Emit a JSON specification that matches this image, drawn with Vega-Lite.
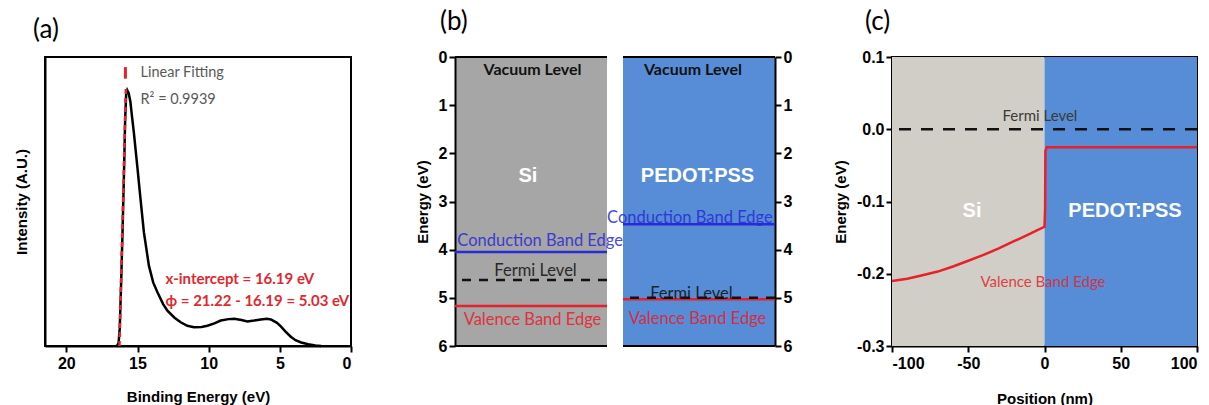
{
  "$schema": "https://vega.github.io/schema/vega-lite/v6.json",
  "background": "white",
  "padding": {"left": 13, "top": 8, "right": 5, "bottom": 0},
  "spacing": 16,
  "bounds": "flush",
  "resolve": {"scale": {"color": "independent", "strokeDash": "independent"}},
  "config": {
    "font": "Liberation Sans",
    "axis": {"domainColor": "black", "domainWidth": 2, "tickColor": "black", "tickWidth": 2, "tickSize": 6, "labelFont": "Liberation Sans", "labelFontWeight": "bold", "labelFontSize": 16, "labelColor": "black", "titleFont": "Liberation Sans", "titleFontWeight": "bold", "titleFontSize": 15, "titleColor": "black", "grid": false},
    "title": {"font": "Lato", "fontSize": 26, "fontWeight": "normal", "anchor": "start", "frame": "group", "color": "black"}
  },
  "hconcat": [
    {
      "width": 306, "height": 289,
      "title": {"text": "(a)", "dx": -12, "offset": 14},
      "view": {"stroke": "black", "strokeWidth": 2},
      "layer": [
        {
          "data": {"values": [
            {"be": 16.45, "int": 0}, {"be": 16.33, "int": 0.01}, {"be": 16.25, "int": 0.06}, {"be": 16.15, "int": 0.22}, {"be": 16.05, "int": 0.4}, {"be": 15.95, "int": 0.6}, {"be": 15.87, "int": 0.78}, {"be": 15.8, "int": 0.87}, {"be": 15.72, "int": 0.885}, {"be": 15.62, "int": 0.875}, {"be": 15.5, "int": 0.845}, {"be": 15.4, "int": 0.8}, {"be": 15.26, "int": 0.74}, {"be": 15.02, "int": 0.624}, {"be": 14.79, "int": 0.509}, {"be": 14.55, "int": 0.393}, {"be": 14.2, "int": 0.278}, {"be": 13.9, "int": 0.22}, {"be": 13.6, "int": 0.186}, {"be": 13.2, "int": 0.145}, {"be": 12.9, "int": 0.122}, {"be": 12.4, "int": 0.098}, {"be": 11.97, "int": 0.082}, {"be": 11.5, "int": 0.07}, {"be": 11.03, "int": 0.065}, {"be": 10.5, "int": 0.066}, {"be": 10.09, "int": 0.07}, {"be": 9.6, "int": 0.078}, {"be": 9.15, "int": 0.088}, {"be": 8.6, "int": 0.093}, {"be": 8.2, "int": 0.094}, {"be": 7.7, "int": 0.09}, {"be": 7.28, "int": 0.085}, {"be": 6.8, "int": 0.088}, {"be": 6.34, "int": 0.092}, {"be": 5.9, "int": 0.094}, {"be": 5.63, "int": 0.092}, {"be": 5.2, "int": 0.08}, {"be": 4.93, "int": 0.068}, {"be": 4.6, "int": 0.05}, {"be": 4.23, "int": 0.032}, {"be": 3.9, "int": 0.02}, {"be": 3.5, "int": 0.012}, {"be": 3.0, "int": 0.006}, {"be": 2.5, "int": 0.002}, {"be": 2.1, "int": 0}
          ]},
          "mark": {"type": "line", "color": "black", "strokeWidth": 2.5},
          "encoding": {
            "x": {"field": "be", "type": "quantitative", "scale": {"domain": [0, 21.5], "reverse": true, "nice": false, "zero": false}, "axis": {"values": [0, 5, 10, 15, 20], "title": "Binding Energy (eV)", "labelPadding": 3, "titlePadding": 18}},
            "y": {"field": "int", "type": "quantitative", "scale": {"domain": [0, 1], "nice": false}, "axis": {"labels": false, "ticks": false, "title": "Intensity (A.U.)", "titlePadding": 16}},
            "order": {"field": "be", "sort": "descending"}
          }
        },
        {
          "data": {"values": [{"be": 16.27, "int": 0}, {"be": 15.82, "int": 0.89}]},
          "mark": {"type": "line", "color": "#e8202a", "strokeWidth": 2.5, "strokeDash": [5, 4]},
          "encoding": {"x": {"field": "be", "type": "quantitative"}, "y": {"field": "int", "type": "quantitative"}}
        },
        {
          "data": {"values": [{"be": 15.85, "int": 0.925, "int2": 0.965}]},
          "mark": {"type": "rule", "color": "#e8202a", "strokeWidth": 3},
          "encoding": {"x": {"field": "be", "type": "quantitative"}, "y": {"field": "int", "type": "quantitative"}, "y2": {"field": "int2"}}
        },
        {
          "data": {"values": [{"be": 14.79, "int": 0.945, "label": "Linear Fitting"}, {"be": 14.79, "int": 0.851, "label": "R² = 0.9939"}]},
          "mark": {"type": "text", "font": "Lato", "fontSize": 14.5, "color": "#595959", "align": "left", "baseline": "middle"},
          "encoding": {"x": {"field": "be", "type": "quantitative"}, "y": {"field": "int", "type": "quantitative"}, "text": {"field": "label"}}
        },
        {
          "data": {"values": [{"be": 13.03, "int": 0.232, "label": "x-intercept = 16.19 eV"}, {"be": 13.03, "int": 0.156, "label": "ϕ = 21.22 - 16.19 = 5.03 eV"}]},
          "mark": {"type": "text", "font": "Lato", "fontSize": 15, "fontWeight": "bold", "color": "#e0282f", "align": "left", "baseline": "middle"},
          "encoding": {"x": {"field": "be", "type": "quantitative"}, "y": {"field": "int", "type": "quantitative"}, "text": {"field": "label"}}
        }
      ]
    },
    {"width": 72, "height": 289, "view": {"stroke": null}, "data": {"values": [{}]}, "mark": {"type": "point", "opacity": 0}},
    {
      "width": 152, "height": 289,
      "title": {"text": "(b)", "dx": -15, "offset": 14},
      "view": {"stroke": null, "fill": "#a6a6a6"},
      "layer": [
        {
          "data": {"values": [{"energy": 0}, {"energy": 6}]},
          "mark": {"type": "rule", "color": "black", "strokeWidth": 2},
          "encoding": {"y": {"field": "energy", "type": "quantitative", "scale": {"domain": [0, 6], "reverse": true, "nice": false, "zero": false}, "axis": {"values": [0, 1, 2, 3, 4, 5, 6], "title": "Energy (eV)", "orient": "left", "titlePadding": 8}}}
        },
        {
          "data": {"values": [{"level": "Conduction Band Edge", "energy": 4.05}, {"level": "Fermi Level", "energy": 4.63}, {"level": "Valence Band Edge", "energy": 5.17}]},
          "mark": {"type": "rule", "strokeWidth": 2.5},
          "encoding": {
            "y": {"field": "energy", "type": "quantitative"},
            "color": {"field": "level", "type": "nominal", "scale": {"domain": ["Conduction Band Edge", "Fermi Level", "Valence Band Edge"], "range": ["#2a2ad8", "#111111", "#e8202a"]}, "legend": null},
            "strokeDash": {"field": "level", "type": "nominal", "scale": {"domain": ["Conduction Band Edge", "Fermi Level", "Valence Band Edge"], "range": [[1, 0], [9, 8], [1, 0]]}, "legend": null}
          }
        },
        {
          "data": {"values": [{"level": "Conduction Band Edge", "label": "Conduction Band Edge", "pos": 0.56, "energy": 3.82}, {"level": "Fermi Level", "label": "Fermi Level", "pos": 0.53, "energy": 4.44}, {"level": "Valence Band Edge", "label": "Valence Band Edge", "pos": 0.51, "energy": 5.46}]},
          "mark": {"type": "text", "font": "Lato", "fontSize": 16.5, "align": "center", "baseline": "middle", "opacity": 0.85},
          "encoding": {
            "x": {"field": "pos", "type": "quantitative", "scale": {"domain": [0, 1], "nice": false}, "axis": null},
            "y": {"field": "energy", "type": "quantitative"},
            "text": {"field": "label"},
            "color": {"field": "level", "type": "nominal", "legend": null}
          }
        },
        {
          "data": {"values": [{"label": "Vacuum Level", "pos": 0.51, "energy": 0.27}]},
          "mark": {"type": "text", "font": "Lato", "fontSize": 16, "fontWeight": "bold", "color": "#111111", "align": "center", "baseline": "middle"},
          "encoding": {"x": {"field": "pos", "type": "quantitative"}, "y": {"field": "energy", "type": "quantitative"}, "text": {"field": "label"}}
        },
        {
          "data": {"values": [{"label": "Si", "pos": 0.48, "energy": 2.47}]},
          "mark": {"type": "text", "font": "Liberation Sans", "fontSize": 20, "fontWeight": "bold", "color": "white", "align": "center", "baseline": "middle"},
          "encoding": {"x": {"field": "pos", "type": "quantitative"}, "y": {"field": "energy", "type": "quantitative"}, "text": {"field": "label"}}
        }
      ]
    },
    {
      "width": 152, "height": 289,
      "view": {"stroke": null, "fill": "#568dd6"},
      "layer": [
        {
          "data": {"values": [{"energy": 0}, {"energy": 6}]},
          "mark": {"type": "rule", "color": "black", "strokeWidth": 2},
          "encoding": {"y": {"field": "energy", "type": "quantitative", "scale": {"domain": [0, 6], "reverse": true, "nice": false, "zero": false}, "axis": {"values": [0, 1, 2, 3, 4, 5, 6], "title": null, "orient": "right"}}}
        },
        {
          "data": {"values": [{"level": "Conduction Band Edge", "energy": 3.47}, {"level": "Valence Band Edge", "energy": 5.03}, {"level": "Fermi Level", "energy": 5.0}]},
          "mark": {"type": "rule", "strokeWidth": 2.5},
          "encoding": {
            "y": {"field": "energy", "type": "quantitative"},
            "color": {"field": "level", "type": "nominal", "scale": {"domain": ["Conduction Band Edge", "Fermi Level", "Valence Band Edge"], "range": ["#2a2ad8", "#111111", "#e8202a"]}, "legend": null},
            "strokeDash": {"field": "level", "type": "nominal", "scale": {"domain": ["Conduction Band Edge", "Fermi Level", "Valence Band Edge"], "range": [[1, 0], [9, 8], [1, 0]]}, "legend": null}
          }
        },
        {
          "data": {"values": [{"level": "Conduction Band Edge", "label": "Conduction Band Edge", "pos": 0.44, "energy": 3.34}, {"level": "Fermi Level", "label": "Fermi Level", "pos": 0.45, "energy": 4.92}, {"level": "Valence Band Edge", "label": "Valence Band Edge", "pos": 0.49, "energy": 5.44}]},
          "mark": {"type": "text", "font": "Lato", "fontSize": 16.5, "align": "center", "baseline": "middle", "opacity": 0.85},
          "encoding": {
            "x": {"field": "pos", "type": "quantitative", "scale": {"domain": [0, 1], "nice": false}, "axis": null},
            "y": {"field": "energy", "type": "quantitative"},
            "text": {"field": "label"},
            "color": {"field": "level", "type": "nominal", "legend": null}
          }
        },
        {
          "data": {"values": [{"label": "Vacuum Level", "pos": 0.46, "energy": 0.27}]},
          "mark": {"type": "text", "font": "Lato", "fontSize": 16, "fontWeight": "bold", "color": "#111111", "align": "center", "baseline": "middle"},
          "encoding": {"x": {"field": "pos", "type": "quantitative"}, "y": {"field": "energy", "type": "quantitative"}, "text": {"field": "label"}}
        },
        {
          "data": {"values": [{"label": "PEDOT:PSS", "pos": 0.49, "energy": 2.47}]},
          "mark": {"type": "text", "font": "Liberation Sans", "fontSize": 20, "fontWeight": "bold", "color": "white", "align": "center", "baseline": "middle"},
          "encoding": {"x": {"field": "pos", "type": "quantitative"}, "y": {"field": "energy", "type": "quantitative"}, "text": {"field": "label"}}
        }
      ]
    },
    {"width": 85, "height": 289, "view": {"stroke": null}, "data": {"values": [{}]}, "mark": {"type": "point", "opacity": 0}},
    {
      "width": 305, "height": 289,
      "title": {"text": "(c)", "dx": -27, "offset": 14},
      "view": {"stroke": "black", "strokeWidth": 2},
      "layer": [
        {
          "data": {"values": [{"region": "Si", "x0": -100, "x1": 0}, {"region": "PEDOT:PSS", "x0": 0, "x1": 100}]},
          "mark": {"type": "rect"},
          "encoding": {
            "x": {"field": "x0", "type": "quantitative", "scale": {"domain": [-100, 100], "nice": false}, "axis": {"values": [-100, -50, 0, 50, 100], "title": "Position (nm)", "labelExpr": "replace(format(datum.value, 'd'), '\u2212', '-')", "labelPadding": 3, "titlePadding": 20}},
            "x2": {"field": "x1"},
            "y": {"datum": -0.3, "type": "quantitative", "scale": {"domain": [-0.3, 0.1], "nice": false, "zero": false}, "axis": {"values": [-0.3, -0.2, -0.1, 0, 0.1], "title": "Energy (eV)", "labelExpr": "replace(format(datum.value, '.1f'), '\u2212', '-')", "titlePadding": 8}},
            "y2": {"datum": 0.1},
            "color": {"field": "region", "type": "nominal", "scale": {"domain": ["Si", "PEDOT:PSS"], "range": ["#d0cec6", "#568dd6"]}, "legend": null}
          }
        },
        {
          "data": {"values": [{"energy": 0}]},
          "mark": {"type": "rule", "color": "#111111", "strokeWidth": 2.5, "strokeDash": [12, 10]},
          "encoding": {"y": {"field": "energy", "type": "quantitative"}}
        },
        {
          "data": {"values": [
            {"i": 0, "pos": -100, "energy": -0.21}, {"i": 1, "pos": -90, "energy": -0.207}, {"i": 2, "pos": -80, "energy": -0.202}, {"i": 3, "pos": -70, "energy": -0.197}, {"i": 4, "pos": -60, "energy": -0.19}, {"i": 5, "pos": -50, "energy": -0.182}, {"i": 6, "pos": -40, "energy": -0.174}, {"i": 7, "pos": -30, "energy": -0.165}, {"i": 8, "pos": -20, "energy": -0.155}, {"i": 9, "pos": -10, "energy": -0.145}, {"i": 10, "pos": -5, "energy": -0.14}, {"i": 11, "pos": 0, "energy": -0.135}, {"i": 12, "pos": 0.4, "energy": -0.11}, {"i": 13, "pos": 0.6, "energy": -0.03}, {"i": 14, "pos": 1.5, "energy": -0.025}, {"i": 15, "pos": 100, "energy": -0.025}
          ]},
          "mark": {"type": "line", "color": "#e8202a", "strokeWidth": 2.5},
          "encoding": {"x": {"field": "pos", "type": "quantitative"}, "y": {"field": "energy", "type": "quantitative"}, "order": {"field": "i"}}
        },
        {
          "data": {"values": [{"label": "Fermi Level", "pos": -3, "energy": 0.019}]},
          "mark": {"type": "text", "font": "Lato", "fontSize": 15, "color": "#3a3a3a", "align": "center", "baseline": "middle"},
          "encoding": {"x": {"field": "pos", "type": "quantitative"}, "y": {"field": "energy", "type": "quantitative"}, "text": {"field": "label"}}
        },
        {
          "data": {"values": [{"label": "Valence Band Edge", "pos": -1, "energy": -0.212}]},
          "mark": {"type": "text", "font": "Lato", "fontSize": 15, "color": "#e0282f", "opacity": 0.85, "align": "center", "baseline": "middle"},
          "encoding": {"x": {"field": "pos", "type": "quantitative"}, "y": {"field": "energy", "type": "quantitative"}, "text": {"field": "label"}}
        },
        {
          "data": {"values": [{"label": "Si", "pos": -47.5, "energy": -0.113}, {"label": "PEDOT:PSS", "pos": 52.8, "energy": -0.113}]},
          "mark": {"type": "text", "font": "Liberation Sans", "fontSize": 20, "fontWeight": "bold", "color": "white", "align": "center", "baseline": "middle"},
          "encoding": {"x": {"field": "pos", "type": "quantitative"}, "y": {"field": "energy", "type": "quantitative"}, "text": {"field": "label"}}
        }
      ]
    }
  ]
}
